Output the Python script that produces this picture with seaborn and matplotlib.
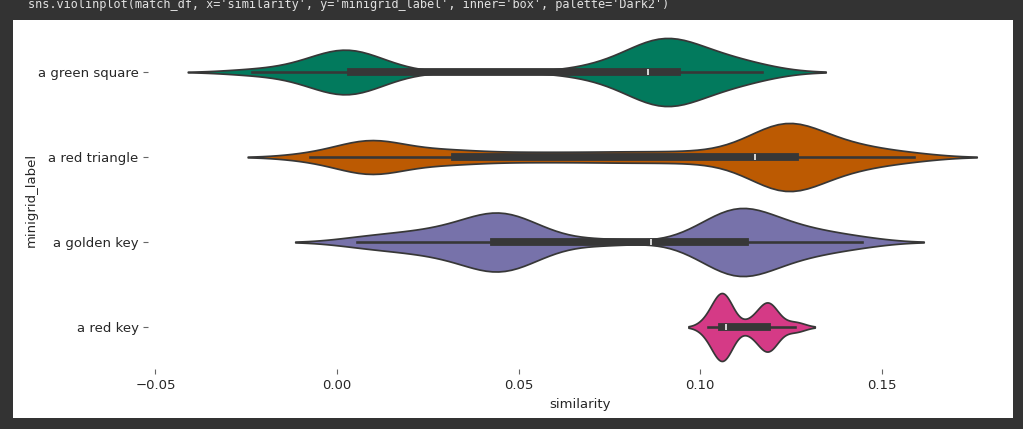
import numpy as np
import pandas as pd
import seaborn as sns
import matplotlib.pyplot as plt
from matplotlib.patches import Rectangle

labels = ["a green square", "a red triangle", "a golden key", "a red key"]

# similarity samples (quartiles / whiskers / modes)
green_square = [-0.0235, -0.012, -0.006, -0.003, -0.001, 0.001, 0.002, 0.003, 0.003, 0.0035,
                0.004, 0.006, 0.009, 0.014, 0.066, 0.074, 0.078, 0.081, 0.083, 0.085,
                0.0864, 0.087, 0.088, 0.089, 0.090, 0.0905, 0.091, 0.0915, 0.092, 0.0935,
                0.0945, 0.096, 0.098, 0.100, 0.102, 0.104, 0.107, 0.110, 0.113, 0.117]
red_triangle = [-0.0074, 0.003, 0.006, 0.008, 0.009, 0.010, 0.012, 0.015, 0.022, 0.029,
                0.0335, 0.043, 0.053, 0.063, 0.073, 0.082, 0.091, 0.100, 0.108, 0.114,
                0.116, 0.118, 0.120, 0.121, 0.122, 0.123, 0.124, 0.125, 0.1255, 0.126,
                0.1265, 0.128, 0.130, 0.132, 0.135, 0.138, 0.141, 0.145, 0.150, 0.159]
golden_key = [0.0055, 0.013, 0.019, 0.024, 0.028, 0.032, 0.035, 0.038, 0.040, 0.042,
              0.0435, 0.044, 0.045, 0.046, 0.047, 0.049, 0.051, 0.054, 0.058, 0.074,
              0.099, 0.103, 0.105, 0.107, 0.108, 0.109, 0.110, 0.111, 0.1115, 0.112,
              0.114, 0.115, 0.117, 0.119, 0.122, 0.125, 0.128, 0.132, 0.137, 0.1446]
red_key = [0.1022, 0.1050, 0.1056, 0.1060, 0.1062, 0.1066, 0.1069, 0.1072, 0.1142, 0.1180,
           0.1185, 0.1185, 0.1190, 0.1198, 0.1262]

# kde bandwidth per label, in similarity units (from how far the tails run past the whiskers)
bandwidths = [0.0088, 0.0086, 0.0085, 0.0027]

groups = [green_square, red_triangle, golden_key, red_key]
match_df = pd.DataFrame({
    "similarity": sum(groups, []),
    "minigrid_label": sum([[lab] * len(g) for lab, g in zip(labels, groups)], []),
})

code_line = "sns.violinplot(match_df, x='similarity', y='minigrid_label', inner='box', palette='Dark2')"

# Dark2 as it shows up in the screenshot
colors = ["#027a5d", "#bc5a02", "#7772aa", "#d53a86"]

fig = plt.figure(figsize=(10.23, 4.29), dpi=100, facecolor="#333333")
# white notebook output cell
fig.add_artist(Rectangle((13 / 1023, 11 / 429), 1000 / 1023, 398 / 429,
                         transform=fig.transFigure, facecolor="white",
                         edgecolor="none", zorder=-10))
fig.text(28 / 1023, 1 - 8 / 429, code_line, family="DejaVu Sans Mono",
         size=8.6, color="#e2e2e2", va="baseline")

ax = fig.add_axes([0.1449, 0.1387, 0.8446, 0.7925])
ax.patch.set_alpha(0)

for lab, bw, c in zip(labels, bandwidths, colors):
    sub = match_df[match_df.minigrid_label == lab]
    factor = bw / sub.similarity.std()
    sns.violinplot(sub, x="similarity", y="minigrid_label", order=labels, color=c,
                   saturation=1, inner="box", bw_method=factor, linecolor="#373737", ax=ax)

ax.set_xlim(-0.052, 0.186)
ax.set_ylim(3.5, -0.5)
ax.set_xticks([-0.05, 0.0, 0.05, 0.10, 0.15])
ax.set_xticklabels(["\u22120.05", "0.00", "0.05", "0.10", "0.15"])
for s in ax.spines.values():
    s.set_visible(False)
ax.tick_params(colors="#666666", labelcolor="#262626", labelsize=9.5)
ax.set_xlabel("similarity", fontsize=9.5, color="#262626")
ax.set_ylabel("minigrid_label", fontsize=9.5, color="#262626", labelpad=0)

fig.savefig("out.png", dpi=100, facecolor=fig.get_facecolor())
